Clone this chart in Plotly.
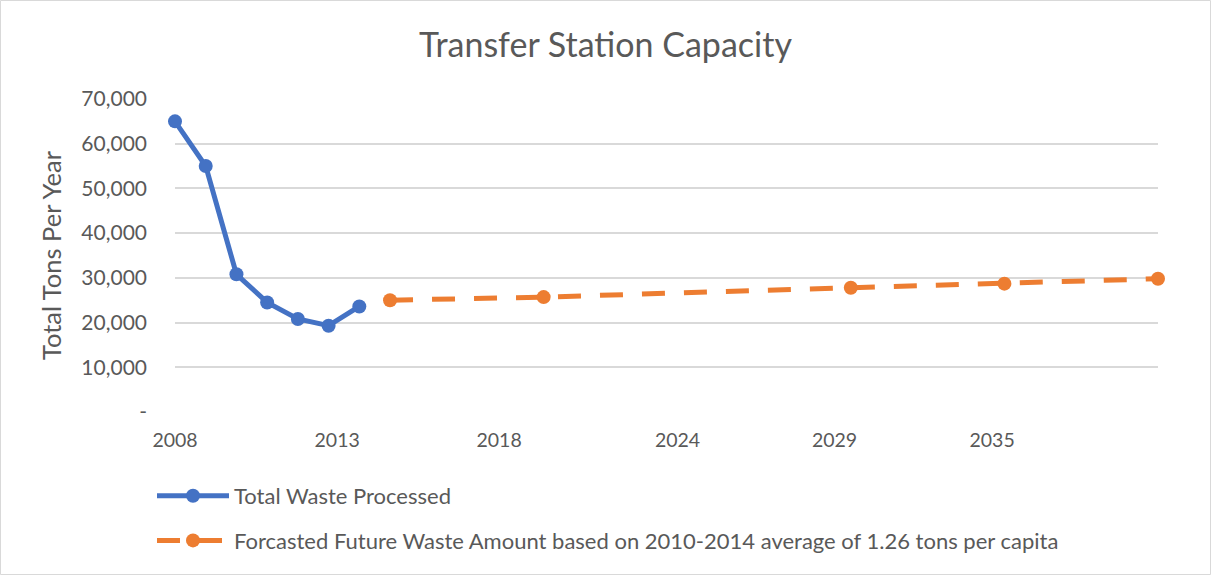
import plotly.graph_objects as go

# ---- data ----
actual_years = [2008, 2009, 2010, 2011, 2012, 2013, 2014]
actual_tons = [65000, 55000, 30800, 24500, 20800, 19300, 23600]

forecast_years = [2015, 2020, 2030, 2035, 2040]
forecast_tons = [25000, 25700, 27800, 28700, 29800]

x_tick_labels = ["2008", "2013", "2018", "2024", "2029", "2035"]
x_tick_pos = [2008.0, 2013.28, 2018.55, 2024.36, 2029.47, 2034.6]
y_tick_vals = [0, 10000, 20000, 30000, 40000, 50000, 60000, 70000]
y_tick_text = ["-", "10,000", "20,000", "30,000", "40,000", "50,000", "60,000", "70,000"]

BLUE = "#4472C4"
ORANGE = "#ED7D31"
TXT = "#595959"
GRID = "#D9D9D9"
FONT = "Lato, 'Open Sans', sans-serif"

W, H = 1211, 575
L, R, T, B = 175, 53, 99, 163
pw, ph = W - L - R, H - T - B

fig = go.Figure()
fig.add_trace(go.Scatter(
    x=actual_years, y=actual_tons, mode="lines+markers",
    name="Total Waste Processed",
    line=dict(color=BLUE, width=5),
    marker=dict(color=BLUE, size=14),
    cliponaxis=False, legendgroup="a",
))
fig.add_trace(go.Scatter(
    x=forecast_years, y=forecast_tons, mode="lines+markers",
    name="Forcasted Future Waste Amount based on 2010-2014 average of 1.26 tons per capita",
    line=dict(color=ORANGE, width=5, dash="23px,19px"),
    marker=dict(color=ORANGE, size=14),
    cliponaxis=False, legendgroup="b",
))

fig.update_layout(
    width=W, height=H,
    margin=dict(l=L, r=R, t=T, b=B, autoexpand=False),
    paper_bgcolor="white", plot_bgcolor="white",
    font=dict(family=FONT, color=TXT, size=20),
    title=dict(text="Transfer Station Capacity", x=0.5, xanchor="center",
               y=1 - 45 / H, yanchor="middle",
               font=dict(family=FONT, size=34, color=TXT)),
    showlegend=True,
    legend=dict(x=(152 - L) / pw, y=-(475 - (T + ph)) / ph, xanchor="left", yanchor="top",
                orientation="v", tracegroupgap=13, itemwidth=72,
                font=dict(size=22, color=TXT), bgcolor="rgba(0,0,0,0)"),
    xaxis=dict(range=[2008, 2040], showgrid=False, zeroline=False, showline=False,
               tickvals=x_tick_pos, ticktext=x_tick_labels, ticks="",
               tickfont=dict(size=19.5, color=TXT), ticklabelstandoff=14,
               automargin=False),
    yaxis=dict(range=[0, 70000], tickvals=y_tick_vals, ticktext=y_tick_text,
               showgrid=True, gridcolor=GRID, gridwidth=1.5, zeroline=False,
               showline=False, ticks="", tickfont=dict(size=21, color=TXT),
               ticklabelstandoff=27, automargin=False,
               title=dict(text="Total Tons Per Year", font=dict(size=25.5, color=TXT),
                          standoff=12)),
    shapes=[dict(type="rect", xref="paper", yref="paper",
                 x0=-(L - 0.5) / pw, x1=1 + (R - 0.5) / pw,
                 y0=-(B - 0.5) / ph, y1=1 + (T - 0.5) / ph,
                 line=dict(color=GRID, width=1), fillcolor="rgba(0,0,0,0)", layer="below")],
)

fig.write_html(
    "out.html",
    config={"displayModeBar": False},
    post_script="document.body.style.margin='0';document.body.style.overflow='hidden';",
)
